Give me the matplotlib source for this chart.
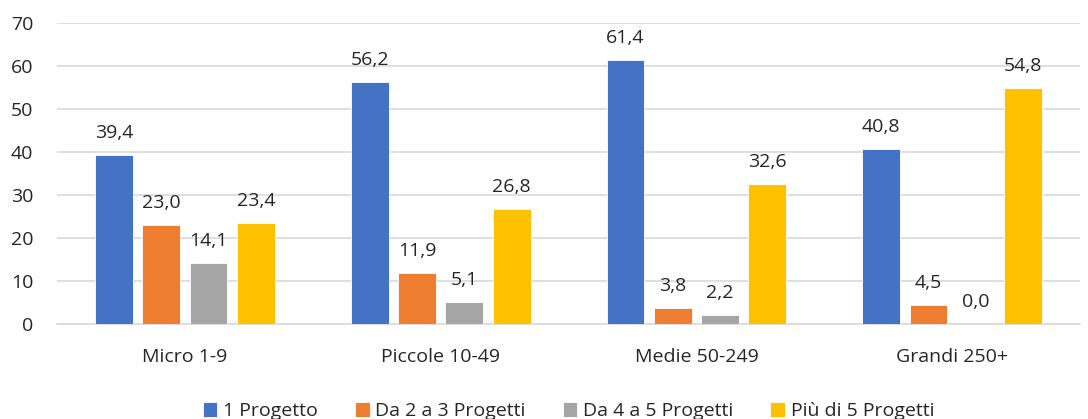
import numpy as np
import matplotlib.pyplot as plt

plt.rcParams['font.family'] = ['Open Sans', 'DejaVu Sans']

categories = ['Micro 1-9', 'Piccole 10-49', 'Medie 50-249', 'Grandi 250+']
series_names = ['1 Progetto', 'Da 2 a 3 Progetti', 'Da 4 a 5 Progetti', 'Più di 5 Progetti']
values = [
    [39.4, 56.2, 61.4, 40.8],
    [23.0, 11.9, 3.8, 4.5],
    [14.1, 5.1, 2.2, 0.0],
    [23.4, 26.8, 32.6, 54.8],
]
colors = ['#4472C4', '#ED7D31', '#A5A5A5', '#FFC000']

fig = plt.figure(figsize=(10.88, 4.19), dpi=100)
ax = fig.add_axes([0.0524, 0.2267, 0.9403, 0.7184])

index = np.arange(len(categories))
pitch = 0.185
bar_width = 0.148
text_col = '#262626'
fs = 14

for i, (name, vals) in enumerate(zip(series_names, values)):
    pos = index + (i - 1.5) * pitch
    ax.bar(pos, vals, bar_width, color=colors[i], label=name, zorder=3,
           edgecolor='white', linewidth=0.6)
    for x, v in zip(pos, vals):
        ax.text(x, v + 3.0, f'{v:.1f}'.replace('.', ','), ha='center', va='bottom',
                fontsize=fs, color=text_col)

ax.set_xlim(-0.5, 3.5)
ax.set_ylim(0, 70)
ax.set_yticks(range(0, 71, 10))
ax.set_xticks(index)
ax.set_xticklabels(categories)
ax.grid(axis='y', color='#D9D9D9', linewidth=1.2, zorder=0)
for s in ['top', 'right', 'left']:
    ax.spines[s].set_visible(False)
ax.spines['bottom'].set_color('#D9D9D9')
ax.spines['bottom'].set_linewidth(1.2)
ax.tick_params(axis='both', length=0, labelsize=fs, colors=text_col)
ax.tick_params(axis='y', pad=17)
ax.tick_params(axis='x', pad=17)

ax.legend(loc='center', bbox_to_anchor=(0.5, -0.29), ncol=4, frameon=False,
          fontsize=fs, handlelength=0.75, handleheight=0.75, columnspacing=1.9,
          handletextpad=0.3, labelcolor=text_col)

fig.savefig('out.png', dpi=100)
